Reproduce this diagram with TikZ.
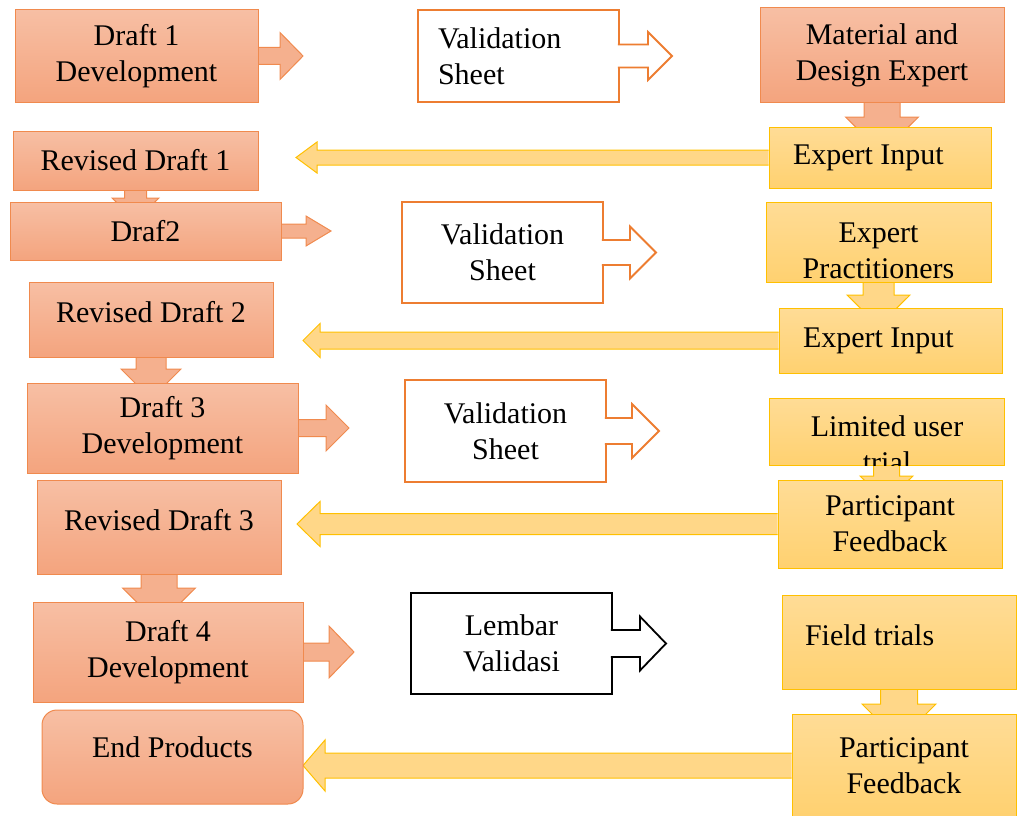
\documentclass[tikz,border=0pt]{standalone}
\usepackage{fontspec}
\setmainfont{Liberation Serif}
\usetikzlibrary{calc,backgrounds}
\definecolor{salmontop}{RGB}{247,191,164}
\definecolor{salmonbot}{RGB}{244,164,126}
\definecolor{salmonmid}{RGB}{245,176,142}
\definecolor{salmonline}{RGB}{240,138,78}
\definecolor{goldtop}{RGB}{255,220,150}
\definecolor{goldbot}{RGB}{255,209,112}
\definecolor{goldmid}{RGB}{255,215,136}
\definecolor{goldline}{RGB}{255,192,0}
\definecolor{sheetline}{RGB}{237,125,49}
\tikzstyle{flow}=[
  x=1pt,y=-1pt,font=\fontsize{30}{36}\selectfont
]
\tikzstyle{draftbox}=[
  draw=salmonline,line width=1pt,top color=salmontop,bottom color=salmonbot,align=center,inner xsep=8pt,inner ysep=0pt
]
\tikzstyle{sheetbox}=[
  draw=sheetline,line width=1.8pt,fill=white,align=center,inner xsep=8pt,inner ysep=0pt
]
\tikzstyle{inputbox}=[
  draw=goldline,line width=1pt,top color=goldtop,bottom color=goldbot,align=center,inner xsep=8pt,inner ysep=0pt
]
\tikzstyle{draftarrow}=[
  draw=salmonline,line width=1pt,fill=salmonmid
]
\tikzstyle{sheetarrow}=[
  draw=sheetline,line width=1.8pt,fill=white
]
\tikzstyle{inputarrow}=[
  draw=goldline,line width=1pt,fill=goldmid
]
% block arrow: [style]{from}{tip}{shaft half width}{head half width}{head length}
\newcommand{\blockarrow}[6][]{%
  \filldraw[#1] let \p1=#2, \p2=#3, \n1={atan2(\y2-(\y1),\x2-(\x1))} in
    ($(\p1)+({\n1+90}:#4pt)$) -- ($(\p2)+({\n1+180}:#6pt)+({\n1+90}:#4pt)$)
    -- ($(\p2)+({\n1+180}:#6pt)+({\n1+90}:#5pt)$) -- (\p2)
    -- ($(\p2)+({\n1+180}:#6pt)+({\n1-90}:#5pt)$)
    -- ($(\p2)+({\n1+180}:#6pt)+({\n1-90}:#4pt)$) -- ($(\p1)+({\n1-90}:#4pt)$);}

\begin{document}
\begin{tikzpicture}[flow]
  \useasboundingbox (0,0) rectangle (1017,816);
  % drafts
  \node (d1) at (136.5,56) [draftbox,minimum width=243,minimum height=92] {Draft 1\\Development};
  \node (rd1) at (135.5,160.5) [draftbox,minimum width=245,minimum height=59] {Revised Draft 1};
  \node (d2) at (145.5,231) [draftbox,minimum width=271,minimum height=58] {Draf2};
  \node (rd2) at (151,319.5) [draftbox,minimum width=244,minimum height=75,text depth=15.5pt] {Revised Draft 2};
  \node (d3) at (162.5,428) [draftbox,minimum width=271,minimum height=90] {Draft 3\\Development};
  \node (rd3) at (159,527) [draftbox,minimum width=244,minimum height=94,text depth=14.5pt] {Revised Draft 3};
  \node (d4) at (168,652) [draftbox,minimum width=270,minimum height=100] {Draft 4\\Development};
  \node (ep) at (172.5,757) [draftbox,rounded corners=15pt,minimum width=261,minimum height=94,text depth=20.5pt] {End Products};
  % validation sheets
  \node (v1) at (518.5,56) [sheetbox,align=flush left,text width=161pt,inner xsep=20pt,minimum height=92] {Validation\\Sheet};
  \node (v2) at (502.5,252.5) [sheetbox,minimum width=201,minimum height=101] {Validation\\Sheet};
  \node (v3) at (505.5,431) [sheetbox,minimum width=201,minimum height=102] {Validation\\Sheet};
  \node (lv) at (511.5,643.5) [sheetbox,draw=black,minimum width=201,minimum height=101] {Lembar\\Validasi};
  % experts and trials
  \node (mde) at (882,55) [draftbox,minimum width=244,minimum height=94] {Material and\\Design Expert};
  \node (ei1) at (880,157.5) [inputbox,align=flush left,text width=174pt,inner xsep=24pt,minimum height=61] {Expert Input};
  \node (xp) at (878.5,242) [inputbox,minimum width=225,minimum height=80,text height=72.5pt] {Expert\\Practitioners};
  \node (ei2) at (890.5,340.5) [inputbox,align=flush left,text width=175pt,inner xsep=24pt,minimum height=65] {Expert Input};
  \node (lut) at (886.5,431.5) [inputbox,minimum width=235,minimum height=67] {};
  \node (pf1) at (890,524) [inputbox,minimum width=224,minimum height=88] {Participant\\Feedback};
  \node (ft) at (899,642) [inputbox,align=flush left,text width=188pt,inner xsep=23pt,minimum height=94,text depth=14.5pt] {Field trials};
  \node (pf2) at (904,765.5) [inputbox,minimum width=224,minimum height=103] {Participant\\Feedback};
  \begin{scope}
    \clip (lut.south west) rectangle (lut.north east);
    \node (luttext) at (887,443.75) [align=center] {Limited user\\trial};
  \end{scope}
  % arrow tips
  \coordinate (d1tip) at (303,56);
  \coordinate (d2tip) at (331,231);
  \coordinate (d3tip) at (349,428);
  \coordinate (d4tip) at (354,652);
  \coordinate (rd1tip) at (135.5,221);
  \coordinate (rd2tip) at (151,399);
  \coordinate (rd3tip) at (159,624);
  \coordinate (v1tip) at (672,56);
  \coordinate (v2tip) at (656,252.5);
  \coordinate (v3tip) at (659,431);
  \coordinate (lvtip) at (666,643.5);
  \coordinate (mdetip) at (882,153);
  \coordinate (ei1tip) at (296,157.5);
  \coordinate (xptip) at (878.5,326);
  \coordinate (ei2tip) at (303,340.5);
  \coordinate (luttip) at (886.5,502);
  \coordinate (pf1tip) at (297,524);
  \coordinate (fttip) at (899,741);
  \coordinate (pf2tip) at (303,765.5);
  \begin{scope}[on background layer]
    \blockarrow[draftarrow]{(d1.east)}{(d1tip)}{8.5}{23.5}{23}
    \blockarrow[draftarrow]{(d2.east)}{(d2tip)}{7}{15}{25}
    \blockarrow[draftarrow]{(d3.east)}{(d3tip)}{8.5}{23}{23}
    \blockarrow[draftarrow]{(d4.east)}{(d4tip)}{9}{26}{25}
    \blockarrow[draftarrow]{(rd1.south)}{(rd1tip)}{11}{23.5}{23}
    \blockarrow[draftarrow]{(rd2.south)}{(rd2tip)}{15}{30}{30}
    \blockarrow[draftarrow]{(rd3.south)}{(rd3tip)}{18}{36.5}{36}
    \blockarrow[draftarrow]{(mde.south)}{(mdetip)}{18}{36.5}{36}
    \blockarrow[inputarrow]{(ei1.west)}{(ei1tip)}{7.5}{15.5}{21}
    \blockarrow[inputarrow]{(xp.south)}{(xptip)}{15.5}{31.5}{31}
    \blockarrow[inputarrow]{(ei2.west)}{(ei2tip)}{8.5}{17}{17}
    \blockarrow[inputarrow]{(lut.south)}{(luttip)}{13}{26.5}{26}
    \blockarrow[inputarrow]{(pf1.west)}{(pf1tip)}{10.5}{22.5}{23}
    \blockarrow[inputarrow]{(ft.south)}{(fttip)}{18.5}{37}{37}
    \blockarrow[inputarrow]{(pf2.west)}{(pf2tip)}{12.5}{25.5}{22}
  \end{scope}
  \blockarrow[sheetarrow]{([xshift=-2pt]v1.east)}{(v1tip)}{11.5}{24}{24}
  \blockarrow[sheetarrow]{([xshift=-2pt]v2.east)}{(v2tip)}{12.5}{26}{26}
  \blockarrow[sheetarrow]{([xshift=-2pt]v3.east)}{(v3tip)}{13}{27}{27}
  \blockarrow[sheetarrow,draw=black]{([xshift=-2pt]lv.east)}{(lvtip)}{13.5}{27}{26}
\end{tikzpicture}
\end{document}
